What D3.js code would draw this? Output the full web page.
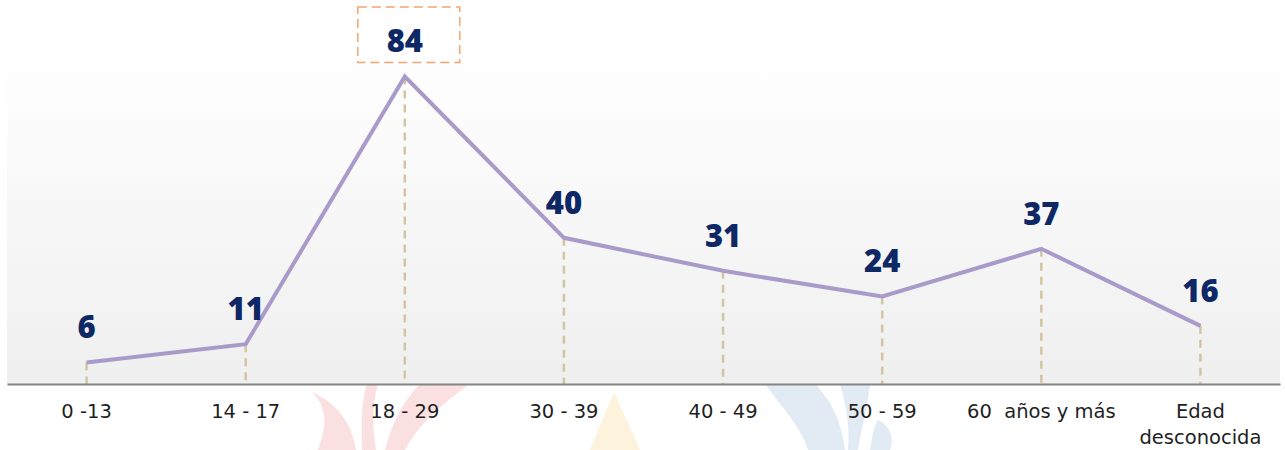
<!DOCTYPE html>
<html>
<head>
<meta charset="utf-8">
<script src="https://cdn.jsdelivr.net/npm/d3@7"></script>
<style>
  html, body { margin: 0; padding: 0; background: #fff; }
  svg { display: block; }
</style>
</head>
<body>
<div id="chart"></div>
<script>
// Chart data
const categories = ["0 -13", "14 - 17", "18 - 29", "30 - 39", "40 - 49", "50 - 59", "60  años y más", "Edad\ndesconocida"];
const values = [6, 11, 84, 40, 31, 24, 37, 16];
const highlighted = "18 - 29"; // label boxed with dashed outline

const WIDTH = 1285, HEIGHT = 450;
const PLOT = { left: 7, right: 1280, top: 0, bottom: 384.5 };

const svg = d3.select("#chart").append("svg")
    .attr("width", WIDTH)
    .attr("height", HEIGHT);

const x = d3.scaleBand()
    .domain(categories)
    .range([PLOT.left, PLOT.right]);

const y = d3.scaleLinear()
    .domain([0, 100])
    .range([PLOT.bottom, 17.8]);

const cx = d => x(d) + x.bandwidth() / 2;

drawWatermark();
drawBackground();
drawDropLines();
drawLine();
drawAxis();
drawValueLabels();

function drawWatermark() {
    // faint logo shapes sitting under the axis labels
    const wm = svg.append("g").attr("opacity", 0.85);
    wm.append("path")
        .attr("fill", "#f9dadb")
        .attr("d", "M318,450 C325,430 330,410 312,392 C340,405 352,425 356,450 Z " +
                   "M362,450 C362,425 360,405 367,384 L378,384 C372,405 372,428 376,450 Z " +
                   "M385,450 C392,425 400,405 420,384 L470,384 C440,405 418,425 405,450 Z");
    wm.append("path")
        .attr("fill", "#fdf1d6")
        .attr("d", "M614,392 L590,450 L640,450 Z");
    wm.append("path")
        .attr("fill", "#dde7f2")
        .attr("d", "M765,384 L815,384 C830,400 840,415 845,450 L808,450 C800,425 780,405 765,384 Z " +
                   "M840,384 L870,384 C868,405 862,425 858,450 L848,450 C850,425 846,405 840,384 Z " +
                   "M878,420 C890,425 895,440 890,450 L870,450 C872,440 872,430 878,420 Z");
}

function drawBackground() {
    const grad = svg.append("defs").append("linearGradient")
        .attr("id", "bg")
        .attr("x1", 0).attr("y1", 0).attr("x2", 0).attr("y2", 1);
    grad.append("stop").attr("offset", "0%").attr("stop-color", "#ffffff");
    grad.append("stop").attr("offset", "12%").attr("stop-color", "#ffffff");
    grad.append("stop").attr("offset", "100%").attr("stop-color", "#efefef");

    svg.append("rect")
        .attr("x", PLOT.left)
        .attr("y", PLOT.top)
        .attr("width", PLOT.right - PLOT.left)
        .attr("height", PLOT.bottom - PLOT.top)
        .attr("fill", "url(#bg)");
}

function drawDropLines() {
    svg.append("g")
        .selectAll("line")
        .data(categories)
        .join("line")
        .attr("x1", d => cx(d))
        .attr("x2", d => cx(d))
        .attr("y1", (d, i) => y(values[i]))
        .attr("y2", y(0))
        .attr("stroke", "#d3c5a1")
        .attr("stroke-width", 2.5)
        .attr("stroke-dasharray", "8,6");
}

function drawLine() {
    const line = d3.line()
        .x(d => cx(d))
        .y((d, i) => y(values[i]));

    svg.append("path")
        .datum(categories)
        .attr("d", line)
        .attr("fill", "none")
        .attr("stroke", "#a99aca")
        .attr("stroke-width", 4)
        .attr("stroke-linejoin", "miter");
}

function drawAxis() {
    const axis = d3.axisBottom(x).tickSize(0).tickPadding(0);
    const g = svg.append("g")
        .attr("transform", `translate(0,${PLOT.bottom - 0.5})`)
        .call(axis);

    g.select(".domain")
        .attr("stroke", "#858585")
        .attr("stroke-width", 2);

    g.selectAll(".tick text").each(function(d) {
        const t = d3.select(this);
        const lines = d.split("\n");
        t.text(null)
            .attr("fill", "#1f1f1f")
            .attr("font-family", "'DejaVu Sans', sans-serif")
            .attr("font-size", 19.5)
            .attr("style", "white-space: pre")
            .attr("y", 0)
            .attr("dy", null);
        lines.forEach((l, i) => {
            t.append("tspan")
                .attr("x", 0)
                .attr("y", 34 + i * 26)
                .text(l);
        });
    });
}

function drawValueLabels() {
    const labels = svg.append("g");

    labels.selectAll("text")
        .data(categories)
        .join("text")
        .attr("x", d => cx(d))
        .attr("y", (d, i) => y(values[i]) - 24)
        .attr("text-anchor", "middle")
        .attr("font-family", "'Open Sans', sans-serif")
        .attr("font-weight", 800)
        .attr("font-size", 31)
        .attr("fill", "#0d2864")
        .text((d, i) => values[i]);

    // dashed box around the peak label
    const i = categories.indexOf(highlighted);
    const px = cx(highlighted), py = y(values[i]);
    labels.append("rect")
        .attr("x", px - 47)
        .attr("y", py - 69.5)
        .attr("width", 102)
        .attr("height", 55.5)
        .attr("fill", "none")
        .attr("stroke", "#f3a56f")
        .attr("stroke-width", 1.5)
        .attr("stroke-dasharray", "9,5");
}
</script>
</body>
</html>
